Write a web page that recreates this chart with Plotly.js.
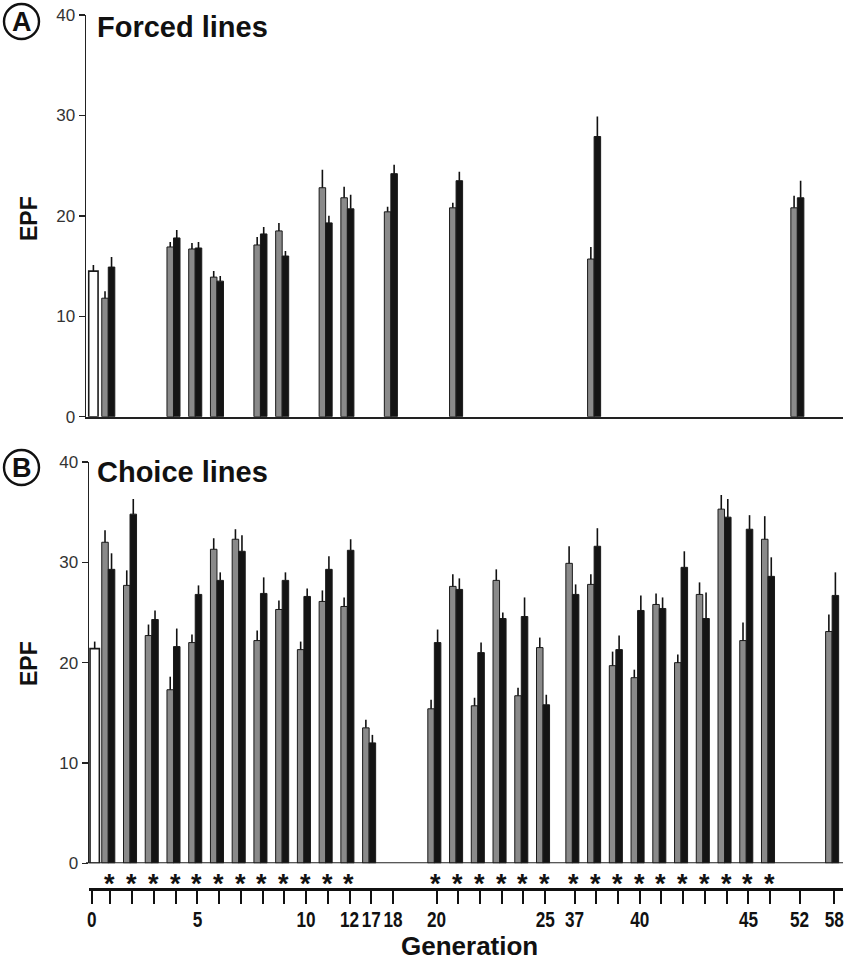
<!DOCTYPE html>
<html>
<head>
<meta charset="utf-8">
<script src="https://cdn.plot.ly/plotly-3.0.1.min.js"></script>
<style>html,body{margin:0;padding:0;background:#fff;}#chart{width:845px;height:963px;}</style>
</head>
<body>
<div id="chart"></div>
<script>
// ---------------- DATA ----------------
// Panel A: Forced lines
const forcedAncestorGen = [0];
const forcedAncestor = [14.5];
const forcedAncestorErr = [0.6];
const forcedGens = [1, 4, 5, 6, 8, 9, 11, 12, 18, 21, 38, 52];
const forcedGray = [11.8, 16.9, 16.7, 13.9, 17.1, 18.5, 22.8, 21.8, 20.4, 20.8, 15.7, 20.8];
const forcedGrayErr = [0.7, 0.5, 0.6, 0.6, 0.8, 0.8, 1.8, 1.1, 0.5, 0.5, 1.2, 1.2];
const forcedBlack = [14.9, 17.8, 16.8, 13.5, 18.2, 16.0, 19.3, 20.7, 24.2, 23.5, 27.9, 21.8];
const forcedBlackErr = [1.0, 0.8, 0.6, 0.5, 0.7, 0.5, 0.7, 1.4, 0.9, 0.9, 2.0, 1.7];

// Panel B: Choice lines
const choiceAncestorGen = [0];
const choiceAncestor = [21.4];
const choiceAncestorErr = [0.7];
const choiceGens = [1, 2, 3, 4, 5, 6, 7, 8, 9, 10, 11, 12, 17, 20, 21, 22, 23, 24, 25,
                    37, 38, 39, 40, 41, 42, 43, 44, 45, 46, 58];
const choiceGray = [32.0, 27.7, 22.7, 17.3, 22.0, 31.3, 32.3, 22.2, 25.3, 21.3, 26.1, 25.6, 13.5,
                    15.4, 27.6, 15.7, 28.2, 16.7, 21.5,
                    29.9, 27.8, 19.7, 18.5, 25.8, 20.0, 26.8, 35.3, 22.2, 32.3, 23.1];
const choiceGrayErr = [1.2, 1.5, 1.1, 1.3, 0.8, 1.1, 1.0, 1.0, 0.9, 0.8, 1.1, 0.9, 0.8,
                       0.9, 1.2, 0.8, 1.1, 0.8, 1.0,
                       1.7, 1.0, 1.4, 0.8, 1.1, 0.8, 1.2, 1.4, 1.8, 2.3, 1.7];
const choiceBlack = [29.3, 34.8, 24.3, 21.6, 26.8, 28.2, 31.1, 26.9, 28.2, 26.6, 29.3, 31.2, 12.0,
                     22.0, 27.3, 21.0, 24.4, 24.6, 15.8,
                     26.8, 31.6, 21.3, 25.2, 25.4, 29.5, 24.4, 34.5, 33.3, 28.6, 26.7];
const choiceBlackErr = [1.6, 1.5, 0.9, 1.8, 0.9, 0.8, 1.6, 1.6, 0.8, 0.8, 1.3, 1.1, 0.8,
                        1.3, 1.1, 1.0, 0.6, 1.9, 1.0,
                        1.0, 1.8, 1.4, 1.5, 1.1, 1.6, 2.6, 1.8, 1.4, 1.9, 2.3];
const starGens = [1, 2, 3, 4, 5, 6, 7, 8, 9, 10, 11, 12, 20, 21, 22, 23, 24, 25,
                  37, 38, 39, 40, 41, 42, 43, 44, 45, 46];

// Axis ticks
const tickGens = [0, 1, 2, 3, 4, 5, 6, 7, 8, 9, 10, 11, 12, 17, 18, 20, 21, 22, 23, 24, 25,
                  37, 38, 39, 40, 41, 42, 43, 44, 45, 46, 52, 58];
const labelledGens = [0, 5, 10, 12, 17, 18, 20, 25, 37, 40, 45, 52, 58];
const yTicks = [0, 10, 20, 30, 40];

// ---------------- BROKEN GENERATION AXIS ----------------
function slotOf(g) {
  if (g <= 12) return g;
  if (g === 17) return 13;
  if (g === 18) return 14;
  if (g >= 20 && g <= 25) return g - 4;
  if (g >= 37 && g <= 46) return g - 37 + 22.35;
  if (g === 52) return 32.7;
  if (g === 58) return 34.3;
  return null;
}
const W = 845, H = 963;
const px = v => v / W, py = v => 1 - v / H;

const GRAY = '#8a8a8a', BLACK = '#141414', EDGE = '#1a1a1a';
const BW = 0.3;
const SANS = 'Liberation Sans, Arial, Helvetica, sans-serif';

function errCfg(arr) {
  return {type: 'data', symmetric: false, array: arr, arrayminus: arr.map(() => 0),
          color: '#111', thickness: 1.6, width: 0, visible: true};
}
function barTrace(gens, vals, errs, color, offset, width, xa, ya, lineW) {
  return {
    type: 'bar', x: gens.map(slotOf), y: vals, offset: offset, width: width,
    marker: {color: color, line: {color: EDGE, width: lineW}},
    error_y: errCfg(errs), xaxis: xa, yaxis: ya, hoverinfo: 'skip', showlegend: false
  };
}

const traces = [
  barTrace(forcedAncestorGen, forcedAncestor, forcedAncestorErr, '#ffffff', 0.1, 0.43, 'x', 'y', 1.6),
  barTrace(forcedGens, forcedGray, forcedGrayErr, GRAY, -BW, BW, 'x', 'y', 1),
  barTrace(forcedGens, forcedBlack, forcedBlackErr, BLACK, 0, BW, 'x', 'y', 1),
  barTrace(choiceAncestorGen, choiceAncestor, choiceAncestorErr, '#ffffff', 0.16, 0.43, 'x2', 'y2', 1.6),
  barTrace(choiceGens, choiceGray, choiceGrayErr, GRAY, -BW, BW, 'x2', 'y2', 1),
  barTrace(choiceGens, choiceBlack, choiceBlackErr, BLACK, 0, BW, 'x2', 'y2', 1)
];

const xRange = [-0.025, 34.8];
const xDomain = [px(86), px(843)];
const tickVals = tickGens.map(g => g === 0 ? 0.24 : slotOf(g) + 0.1);
const tickText = tickGens.map(g => labelledGens.includes(g) ? String(g) : '');

const yTickFont = {family: SANS, size: 17, color: '#333'};

const starNotes = starGens.map(g => ({
  text: '*', x: slotOf(g) + 0.07, y: py(884), xref: 'x2', yref: 'paper', showarrow: false,
  xanchor: 'center', yanchor: 'middle',
  font: {family: SANS, size: 27, color: '#111', weight: 'bold'}
}));

const layout = {
  width: W, height: H,
  margin: {l: 0, r: 0, t: 0, b: 0},
  paper_bgcolor: '#ffffff', plot_bgcolor: 'rgba(0,0,0,0)',
  barmode: 'overlay', showlegend: false,
  xaxis: {
    domain: xDomain, range: xRange, anchor: 'y', showline: true, linecolor: '#222', linewidth: 2,
    ticks: '', showticklabels: false, showgrid: false, zeroline: false, fixedrange: true
  },
  yaxis: {
    domain: [py(416.7), py(15)], range: [0, 40], anchor: 'x', showline: true, linecolor: '#222',
    linewidth: 1.5, ticks: 'outside', ticklen: 6, tickwidth: 1.5, tickcolor: '#222',
    tickvals: yTicks, ticktext: yTicks.map(String), tickfont: yTickFont, showgrid: false, zeroline: false
  },
  xaxis2: {
    domain: [px(89), px(843)], range: [(89 - 86) / 757 * 34.825 - 0.025, 34.8],
    anchor: 'free', position: py(889), showline: true,
    linecolor: '#111', linewidth: 2.5, ticks: 'outside', ticklen: 13, tickwidth: 2, tickcolor: '#111',
    tickvals: tickVals, ticktext: tickText, tickangle: 0, ticklabeloverflow: 'allow',
    ticklabelstandoff: -3,
    tickfont: {family: SANS, size: 22, color: '#111', weight: 'bold'},
    showgrid: false, zeroline: false
  },
  yaxis2: {
    domain: [py(863.3), py(462)], range: [0, 40], anchor: 'x2', showline: true, linecolor: '#222',
    linewidth: 1.5, ticks: 'outside', ticklen: 6, tickwidth: 1.5, tickcolor: '#222',
    tickvals: yTicks, ticktext: yTicks.map(String), tickfont: yTickFont, showgrid: false, zeroline: false
  },
  shapes: [
    {type: 'line', xref: 'paper', yref: 'y2', x0: px(86), x1: px(843), y0: 0, y1: 0,
     line: {color: '#222', width: 2}},
    {type: 'circle', xref: 'paper', yref: 'paper', x0: px(4), x1: px(39), y0: py(39), y1: py(4),
     line: {color: '#111', width: 2.4}},
    {type: 'circle', xref: 'paper', yref: 'paper', x0: px(4), x1: px(39), y0: py(485), y1: py(450),
     line: {color: '#111', width: 2.4}}
  ],
  annotations: [
    {text: 'A', x: px(21.5), y: py(22), xref: 'paper', yref: 'paper', showarrow: false,
     xanchor: 'center', yanchor: 'middle',
     font: {family: SANS, size: 27, color: '#111', weight: 'bold'}},
    {text: 'B', x: px(21.5), y: py(468), xref: 'paper', yref: 'paper', showarrow: false,
     xanchor: 'center', yanchor: 'middle',
     font: {family: SANS, size: 27, color: '#111', weight: 'bold'}},
    {text: 'Forced lines', x: px(95), y: py(27), xref: 'paper', yref: 'paper', showarrow: false,
     xanchor: 'left', yanchor: 'middle',
     font: {family: SANS, size: 29, color: '#111', weight: 'bold'}},
    {text: 'Choice lines', x: px(95), y: py(472), xref: 'paper', yref: 'paper', showarrow: false,
     xanchor: 'left', yanchor: 'middle',
     font: {family: SANS, size: 29, color: '#111', weight: 'bold'}},
    {text: 'EPF', x: px(29), y: py(218), xref: 'paper', yref: 'paper', showarrow: false, textangle: -90,
     xanchor: 'center', yanchor: 'middle',
     font: {family: SANS, size: 23, color: '#111', weight: 'bold'}},
    {text: 'EPF', x: px(29), y: py(663), xref: 'paper', yref: 'paper', showarrow: false, textangle: -90,
     xanchor: 'center', yanchor: 'middle',
     font: {family: SANS, size: 23, color: '#111', weight: 'bold'}},
    {text: 'Generation', x: px(470), y: py(946), xref: 'paper', yref: 'paper', showarrow: false,
     xanchor: 'center', yanchor: 'middle',
     font: {family: SANS, size: 26, color: '#111', weight: 'bold'}}
  ].concat(starNotes)
};

// Condensed look for generation tick labels (the reference uses a narrow bold face)
function condenseTickLabels(gd) {
  gd.querySelectorAll('.x2tick text').forEach(t => {
    if (!t.textContent) return;
    const bb = t.getBBox();
    const cx = bb.x + bb.width / 2;
    const tr = t.getAttribute('transform') || '';
    t.setAttribute('transform', tr + ' translate(' + cx + ',0) scale(0.78,1) translate(' + (-cx) + ',0)');
  });
}

Plotly.newPlot('chart', traces, layout, {displayModeBar: false, staticPlot: true})
  .then(condenseTickLabels);
</script>
</body>
</html>
